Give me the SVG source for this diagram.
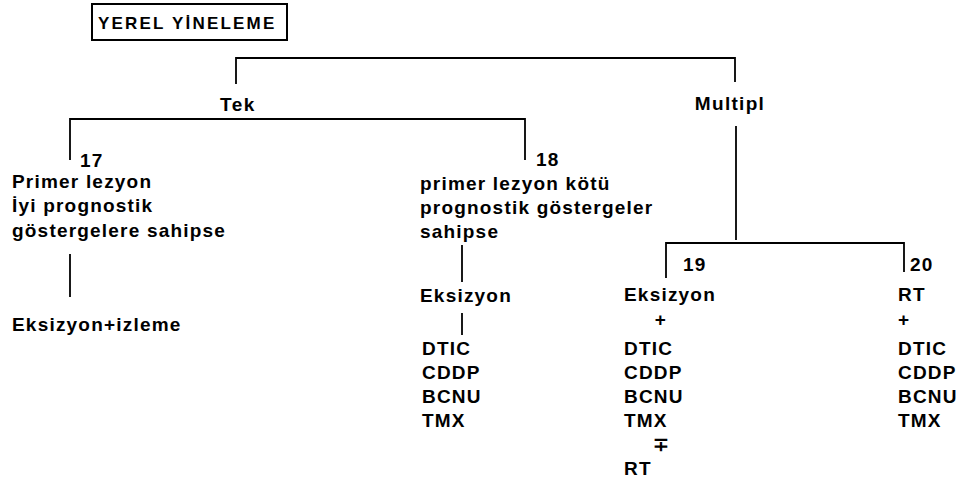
<svg xmlns="http://www.w3.org/2000/svg" width="971" height="501" viewBox="0 0 971 501">
<style>
text{font-family:"Liberation Sans",Arial,sans-serif;font-weight:bold;font-size:19px;fill:#000;letter-spacing:1.2px}
.c{text-anchor:middle}
.ln{stroke:#000;stroke-width:1.8;fill:none}
</style>
<rect width="971" height="501" fill="#fff"/>
<g id="title">
<rect x="92" y="4" width="195" height="36" fill="none" stroke="#000" stroke-width="2"/>
<text x="98" y="29" style="font-size:17px;letter-spacing:2.2px">YEREL YİNELEME</text>
</g>
<g id="connectors">
<path class="ln" d="M236 84V58H735V82"/>
<path class="ln" d="M70 160V119H525V160"/>
<path class="ln" d="M736 126V240"/>
<path class="ln" d="M666 278V243H904V272"/>
<path class="ln" d="M70 254V297"/>
<path class="ln" d="M462 245V282"/>
<path class="ln" d="M462 313V335"/>
</g>
<g id="tek"><text class="c" x="238" y="111" style="letter-spacing:1.5px">Tek</text></g>
<g id="multipl"><text class="c" x="730" y="110" style="letter-spacing:1.3px">Multipl</text></g>
<g id="n17">
<text x="80" y="167">17</text>
<text x="12" y="188">Primer lezyon</text>
<text x="12" y="212">İyi prognostik</text>
<text x="12" y="237">göstergelere sahipse</text>
</g>
<g id="n17b"><text x="12" y="331">Eksizyon+izleme</text></g>
<g id="n18">
<text x="536" y="166">18</text>
<text x="420" y="190">primer lezyon kötü</text>
<text x="420" y="214">prognostik göstergeler</text>
<text x="420" y="238">sahipse</text>
</g>
<g id="n18b"><text x="420" y="302">Eksizyon</text></g>
<g id="n18c">
<text x="422" y="355">DTIC</text>
<text x="422" y="379">CDDP</text>
<text x="422" y="403">BCNU</text>
<text x="422" y="427">TMX</text>
</g>
<g id="n19">
<text x="683" y="271">19</text>
<text x="624" y="301">Eksizyon</text>
<text class="c" x="661" y="326">+</text>
<text x="624" y="355">DTIC</text>
<text x="624" y="379">CDDP</text>
<text x="624" y="403">BCNU</text>
<text x="624" y="427">TMX</text>
<text class="c" x="662" y="451">∓</text>
<text x="624" y="475">RT</text>
</g>
<g id="n20">
<text x="910" y="271">20</text>
<text x="898" y="301">RT</text>
<text x="898" y="326">+</text>
<text x="898" y="355">DTIC</text>
<text x="898" y="379">CDDP</text>
<text x="898" y="403">BCNU</text>
<text x="898" y="427">TMX</text>
</g>
</svg>
